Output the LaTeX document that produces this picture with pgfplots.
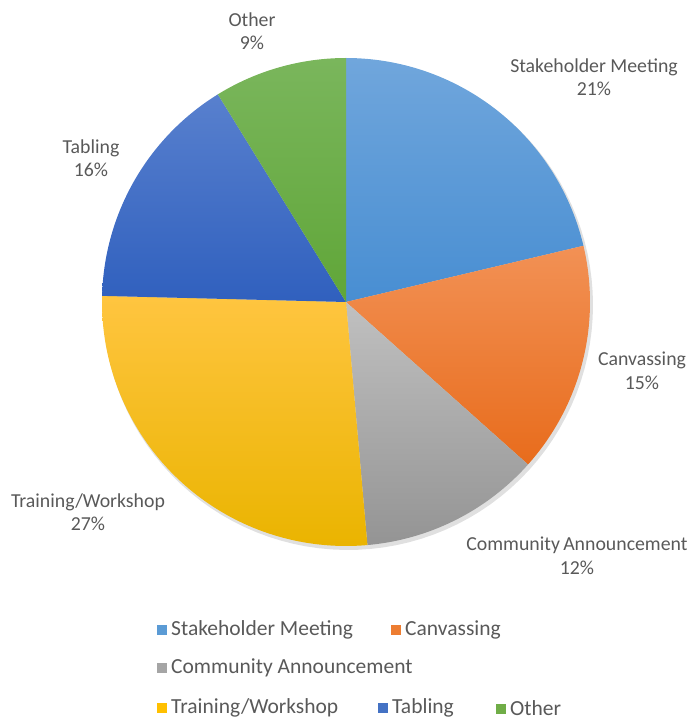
\documentclass[border=0pt]{standalone}
\usepackage{pgfplots}
\pgfplotsset{compat=1.18}
\usepackage{fontspec}
\setmainfont{Carlito}
\definecolor{txt}{RGB}{89,89,89}
\definecolor{bluT}{RGB}{112,166,220}\definecolor{bluB}{RGB}{72,142,210}
\definecolor{orgT}{RGB}{242,145,85}\definecolor{orgB}{RGB}{232,108,28}
\definecolor{gryT}{RGB}{192,192,192}\definecolor{gryB}{RGB}{148,148,148}
\definecolor{yelT}{RGB}{255,197,64}\definecolor{yelB}{RGB}{234,180,0}
\definecolor{tabT}{RGB}{88,128,206}\definecolor{tabB}{RGB}{48,96,190}
\definecolor{grnT}{RGB}{122,182,92}\definecolor{grnB}{RGB}{96,166,56}
\definecolor{blu}{RGB}{91,155,213}\definecolor{org}{RGB}{237,125,49}
\definecolor{gry}{RGB}{165,165,165}\definecolor{yel}{RGB}{255,192,0}
\definecolor{tab}{RGB}{68,114,196}\definecolor{grn}{RGB}{112,173,71}
% #1 start (cumulative percent), #2 value (percent)
\newcommand{\slice}[4]{%
  \addplot[draw=none, top color=#3, bottom color=#4, domain=90-3.6*(#1+#2):90-3.6*#1, samples=120, variable=\t]
    ({346+244*cos(\t)},{419+244*sin(\t)}) -- (axis cs:346,419) -- cycle;}
\newcommand{\lsq}[1]{{\color{#1}\rule[1pt]{10pt}{10pt}}\hspace{4pt}}
\begin{document}
\begin{tikzpicture}
\begin{axis}[hide axis, x=1pt, y=1pt, xmin=0, xmax=690, ymin=0, ymax=721, clip=false,
  every node/.style={text=txt}]
\addplot[draw=none] coordinates {(0,0) (690,721)};
% shadow
\addplot[draw=none, fill=black, opacity=0.12, domain=0:360, samples=120, variable=\t]
  ({348+245*cos(\t)},{416+245*sin(\t)});
% values: 21.3, 15.3, 12.0, 26.8, 15.8, 8.8
\slice{0}{21.3}{bluT}{bluB}
\slice{21.3}{15.3}{orgT}{orgB}
\slice{36.6}{12.0}{gryT}{gryB}
\slice{48.6}{26.8}{yelT}{yelB}
\slice{75.4}{15.8}{tabT}{tabB}
\slice{91.2}{8.8}{grnT}{grnB}
% data labels
\begin{scope}[every node/.append style={align=center, font=\fontsize{19.8}{23.5}\selectfont, text=txt}]
\node at (axis cs:594,644) {Stakeholder Meeting\\21\%};
\node at (axis cs:642,350) {Canvassing\\15\%};
\node at (axis cs:577,165) {Community\,Announcement\\12\%};
\node at (axis cs:88,209) {Training/Workshop\\27\%};
\node at (axis cs:91,563) {Tabling\\16\%};
\node at (axis cs:252,690) {Other\\9\%};
\end{scope}
% legend
\begin{scope}[every node/.append style={anchor=west, inner sep=0pt, font=\fontsize{21.5}{24}\selectfont, text=txt}]
\node at (axis cs:157,91) {\lsq{blu}Stakeholder Meeting};
\node at (axis cs:391,91) {\lsq{org}Canvassing};
\node at (axis cs:157,53) {\lsq{gry}Community Announcement};
\node at (axis cs:157,13) {\lsq{yel}Training/Workshop};
\node at (axis cs:378,13) {\lsq{tab}Tabling};
\node at (axis cs:496,13) {\lsq{grn}Other};
\end{scope}
\end{axis}
\end{tikzpicture}
\end{document}
